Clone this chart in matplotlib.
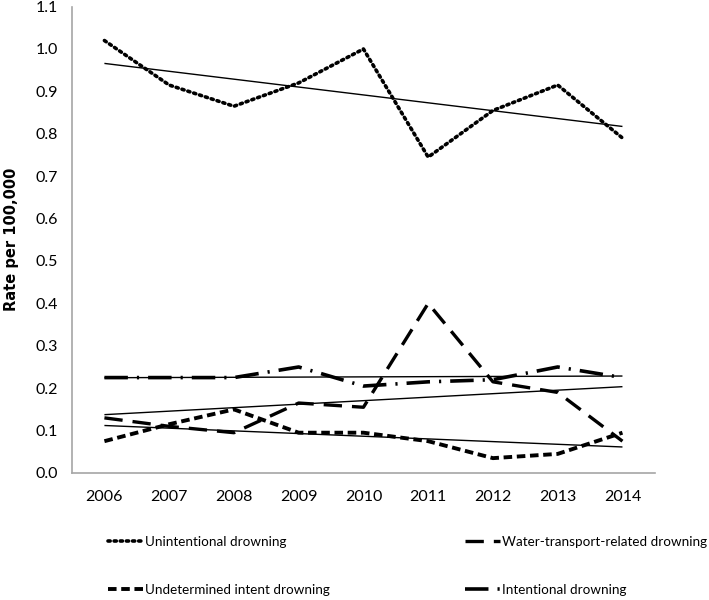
import numpy as np
import matplotlib
matplotlib.use("Agg")
import matplotlib.pyplot as plt

years = [2006, 2007, 2008, 2009, 2010, 2011, 2012, 2013, 2014]
unintentional = [1.02, 0.915, 0.865, 0.92, 1.00, 0.745, 0.855, 0.915, 0.79]
water_transport = [0.13, 0.11, 0.095, 0.165, 0.155, 0.40, 0.215, 0.19, 0.075]
undetermined = [0.075, 0.115, 0.15, 0.095, 0.095, 0.075, 0.035, 0.045, 0.095]
intentional = [0.225, 0.225, 0.225, 0.25, 0.205, 0.215, 0.22, 0.25, 0.225]
yticks = [0.0, 0.1, 0.2, 0.3, 0.4, 0.5, 0.6, 0.7, 0.8, 0.9, 1.0, 1.1]

fig = plt.figure(figsize=(7.09, 6.0), dpi=100)
ax = fig.add_axes([0.1016, 0.2117, 0.822, 0.7773])

font = ['Lato', 'DejaVu Sans']
x = np.arange(len(years))

styles = [
    ("Unintentional drowning", unintentional, dict(linestyle=(0, (0.6, 1.1)), linewidth=2.6, dash_capstyle='round')),
    ("Water-transport-related drowning", water_transport, dict(linestyle=(0, (5.5, 3.0)), linewidth=2.4)),
    ("Undetermined intent drowning", undetermined, dict(linestyle=(0, (2.2, 1.2)), linewidth=2.8)),
    ("Intentional drowning", intentional, dict(linestyle=(0, (6.5, 2.5, 0.6, 2.5)), linewidth=2.6)),
]

handles = {}
for name, vals, st in styles:
    ln, = ax.plot(x, vals, color='black', label=name, **st)
    handles[name] = ln
    coef = np.polyfit(x, vals, 1)
    ax.plot(x, np.polyval(coef, x), color='black', linewidth=1.0, solid_capstyle='butt')

ax.set_xlim(-0.5, len(years) - 0.5)
ax.set_ylim(0, 1.1)
ax.set_xticks(x)
ax.set_xticklabels([str(y) for y in years], fontfamily=font, fontsize=11.5)
ax.set_yticks(yticks)
ax.set_yticklabels([f"{v:.1f}" for v in yticks], fontfamily=font, fontsize=11.5)
ax.tick_params(length=0, pad=12)
ax.tick_params(axis='y', pad=10)
for s in ['top', 'right']:
    ax.spines[s].set_visible(False)
for s in ['left', 'bottom']:
    ax.spines[s].set_color('#a6a6a6')
    ax.spines[s].set_linewidth(1.2)

ax.set_ylabel("Rate per 100,000", fontfamily='DejaVu Sans', fontweight='bold', fontsize=10.5, labelpad=12)

common = dict(loc='upper left', frameon=False, handlelength=2.6, handletextpad=0.15,
              labelspacing=2.7, borderaxespad=0, borderpad=0,
              prop={'family': font, 'size': 9.7})
fig.legend([handles["Unintentional drowning"], handles["Undetermined intent drowning"]],
           ["Unintentional drowning", "Undetermined intent drowning"],
           bbox_to_anchor=(0.152, 0.107), **common)
fig.legend([handles["Water-transport-related drowning"], handles["Intentional drowning"]],
           ["Water-transport-related drowning", "Intentional drowning"],
           bbox_to_anchor=(0.656, 0.107), **common)

fig.savefig("out.png", dpi=100)
